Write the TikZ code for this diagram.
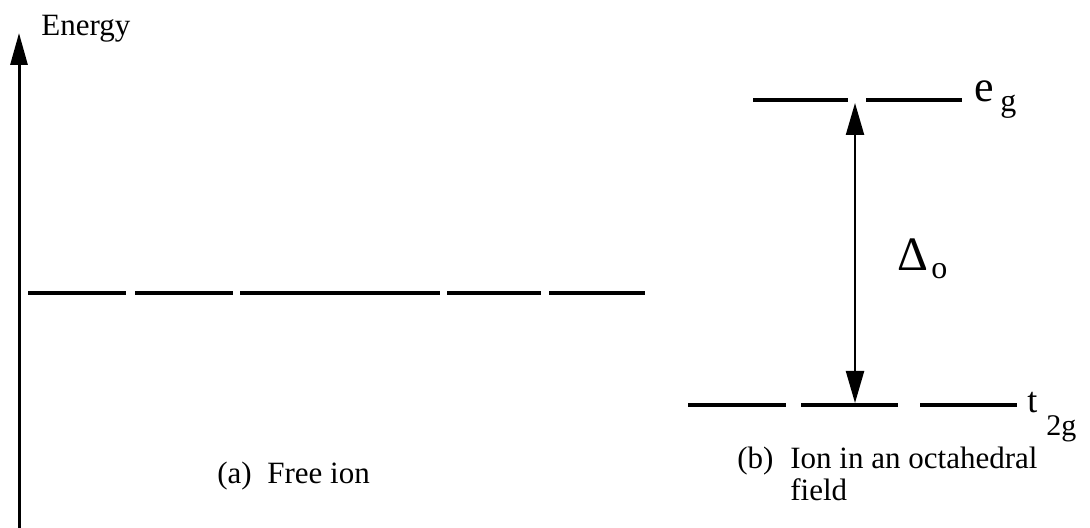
\documentclass[tikz,border=0pt]{standalone}
\usepackage{fontspec}
\setmainfont{Liberation Serif}
\usetikzlibrary{arrows.meta}
\begin{document}
\begin{tikzpicture}[x=0.5pt,y=-0.5pt,
  level/.style={line width=1.7pt},
  lbl/.style={inner sep=0pt,anchor=base west,font=\fontsize{15.5}{16}\selectfont},
  axisarrow/.style={line width=1.5pt,-{Triangle[length=16pt,width=8.5pt]}},
  gaparrow/.style={line width=1.1pt,{Triangle[length=16pt,width=9pt]}-{Triangle[length=16pt,width=9pt]}}]
\useasboundingbox (0,0) rectangle (1090,528);
% energy axis
\coordinate (axb) at (19,528);
\coordinate (axt) at (19,33);
\draw[axisarrow] (axb) -- (axt);
\node[lbl] (energy) at (41,36) {Energy};
% free ion level
\foreach \a/\b in {28/126,135/233,240/440,447/541,549/645}
  \draw[level] (\a,293) -- (\b,293);
\node[lbl] (freeion) at (217,483) {(a)\hspace{0.5em}Free ion};
% e_g level
\foreach \a/\b in {753/848,866/962}
  \draw[level] (\a,100) -- (\b,100);
\node[inner sep=0pt,anchor=base west,font=\fontsize{22}{24}\selectfont] (eg) at (974,102) {e};
\node[inner sep=0pt,anchor=base west,font=\fontsize{16}{18}\selectfont] (egsub) at (1000,112) {g};
% t_2g level
\foreach \a/\b in {688/786,801/898,920/1017}
  \draw[level] (\a,405) -- (\b,405);
\node[inner sep=0pt,anchor=base west,font=\fontsize{18}{20}\selectfont] (t) at (1027,413) {t};
\node[inner sep=0pt,anchor=base west,font=\fontsize{15}{16}\selectfont] (tsub) at (1046,435) {2g};
% splitting arrow
\coordinate (up) at (855,103);
\coordinate (down) at (855,403);
\draw[gaparrow] (down) -- (up);
\node[inner sep=0pt,anchor=base west,font=\fontsize{24}{26}\selectfont] (delta) at (897,271) {Δ};
\node[inner sep=0pt,anchor=base west,font=\fontsize{16}{18}\selectfont] (deltasub) at (931,279) {o};
% caption b
\node[lbl] (blabel) at (737,468) {(b)};
\node[lbl] (octa) at (790,468) {Ion in an octahedral};
\node[lbl] (field) at (790,500) {field};
\end{tikzpicture}
\end{document}
